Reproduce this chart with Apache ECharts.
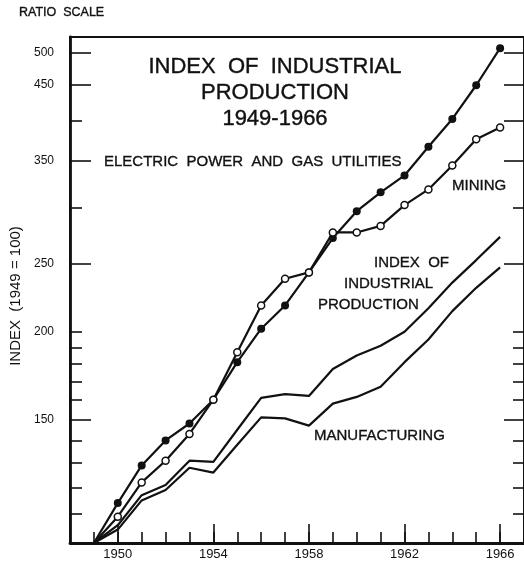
<!DOCTYPE html>
<html>
<head>
<meta charset="utf-8">
<script src="https://cdn.jsdelivr.net/npm/echarts@6/dist/echarts.min.js"></script>
<style>
  html, body { margin: 0; padding: 0; background: #fff; }
  #chart { width: 524px; height: 561px; }
</style>
</head>
<body>
<div id="chart"></div>
<script>
// index values, 1949 = 100
var years = [1949, 1950, 1951, 1952, 1953, 1954, 1955, 1956, 1957, 1958,
             1959, 1960, 1961, 1962, 1963, 1964, 1965, 1966];
var electric = [100, 114, 129, 140, 148, 160, 181, 202, 218, 243, 272, 297, 316, 334, 367, 402, 449, 507];
var mining = [100, 109, 122, 131, 143, 160, 187, 218, 238, 243, 277, 277, 283, 303, 319, 345, 376, 391];
var industrial = [100, 106, 117, 121, 131, 130.5, 145, 161, 163, 162, 177, 185, 191, 200, 216, 235, 253, 273];
var manufacturing = [100, 104.5, 115, 119, 128, 126, 138, 151, 150.5, 147, 158, 161.5, 167, 181, 195, 214, 231, 247];

var yearLabels = [1950, 1954, 1958, 1962, 1966];
var yLabels = [150, 200, 250, 350, 450, 500];
var yTicksLong = [150, 250, 350, 450, 500];
var yTicksShort = [110, 120, 130, 140, 160, 170, 180, 190, 200, 300, 400];
var yTicksLongRight = [150, 250, 350, 400, 450, 500];
var yTicksShortRight = [110, 120, 130, 140, 160, 170, 180, 190, 200, 300];

var INK = '#111';
var FONT = '"Liberation Sans", Arial, sans-serif';

// the 1949 base point carries no marker
function pairs(vals) {
    return years.map(function (y, i) {
        return i === 0 ? { value: [y, vals[i]], symbol: 'none' } : [y, vals[i]];
    });
}

function yAxis(pos, ticks, len, extra) {
    var ax = {
        type: 'log',
        logBase: 10,
        min: 100,
        max: 526,
        position: pos,
        axisLine: { show: false },
        axisTick: { show: true, inside: true, length: len, customValues: ticks,
                    lineStyle: { color: INK, width: 1.6 } },
        axisLabel: { show: false },
        splitLine: { show: false }
    };
    return Object.assign(ax, extra || {});
}

function label(x, y, text, size) {
    return { type: 'text', x: x, y: y,
             style: { text: text, fill: INK, stroke: INK, lineWidth: 0.35,
                      font: size + 'px ' + FONT, verticalAlign: 'middle' } };
}

var chart = echarts.init(document.getElementById('chart'));

chart.setOption({
    animation: false,
    backgroundColor: '#fff',
    grid: {
        left: 66, top: 37, width: 461, height: 506,
        show: true, borderColor: INK, borderWidth: 2, backgroundColor: 'transparent'
    },
    xAxis: [{
        type: 'value',
        min: 1948,
        max: 1967,
        interval: 1,
        position: 'bottom',
        axisLine: { show: true, lineStyle: { color: INK, width: 2.8 } },
        axisTick: { show: true, inside: true, length: 11, lineStyle: { color: INK, width: 1.6 } },
        axisLabel: { customValues: yearLabels, color: INK, fontFamily: FONT, fontSize: 13, margin: 5,
                     formatter: function (v) { return String(v); } },
        splitLine: { show: false }
    }, {
        type: 'value',
        min: 1948,
        max: 1967,
        position: 'bottom',
        axisLine: { show: false },
        axisTick: { show: true, inside: true, length: 19, customValues: yearLabels,
                    lineStyle: { color: INK, width: 1.6 } },
        axisLabel: { show: false },
        splitLine: { show: false }
    }],
    yAxis: [
        yAxis('left', yTicksLong, 21, {
            axisLine: { show: true, lineStyle: { color: INK, width: 2.8 } },
            axisLabel: { show: true, customValues: yLabels, color: INK, fontFamily: FONT, fontSize: 12, margin: 16 },
            name: 'INDEX  (1949 = 100)',
            nameLocation: 'middle',
            nameRotate: 90,
            nameGap: 47,
            nameTextStyle: { color: INK, fontFamily: FONT, fontSize: 15, padding: [0, 12, 0, 0] }
        }),
        yAxis('left', yTicksShort, 12),
        yAxis('right', yTicksLongRight, 20),
        yAxis('right', yTicksShortRight, 11)
    ],
    graphic: [
        label(19, 13, 'RATIO  SCALE', 12.5),
        { type: 'text', x: 275, y: 54, style: { text: 'INDEX  OF  INDUSTRIAL\nPRODUCTION\n1949-1966',
            fill: INK, stroke: INK, lineWidth: 0.4, font: '22px ' + FONT,
            align: 'center', verticalAlign: 'top', lineHeight: 26 } },
        label(104, 162, 'ELECTRIC  POWER  AND  GAS  UTILITIES', 15),
        label(452, 186, 'MINING', 15),
        label(374, 263, 'INDEX  OF', 15),
        label(344, 284, 'INDUSTRIAL', 15),
        label(318, 305, 'PRODUCTION', 15),
        label(314, 436, 'MANUFACTURING', 15)
    ],
    series: [{
        name: 'Electric power and gas utilities',
        type: 'line',
        data: pairs(electric),
        symbol: 'circle',
        symbolSize: 8,
        showAllSymbol: true,
        itemStyle: { color: INK },
        lineStyle: { color: INK, width: 2.2 },
        z: 4
    }, {
        name: 'Mining',
        type: 'line',
        data: pairs(mining),
        symbol: 'circle',
        symbolSize: 7,
        showAllSymbol: true,
        itemStyle: { color: '#fff', borderColor: INK, borderWidth: 1.5 },
        lineStyle: { color: INK, width: 2.2 },
        z: 5
    }, {
        name: 'Index of industrial production',
        type: 'line',
        data: pairs(industrial),
        symbol: 'none',
        lineStyle: { color: INK, width: 2.2 }
    }, {
        name: 'Manufacturing',
        type: 'line',
        data: pairs(manufacturing),
        symbol: 'none',
        lineStyle: { color: INK, width: 2.2 }
    }]
});
</script>
</body>
</html>
